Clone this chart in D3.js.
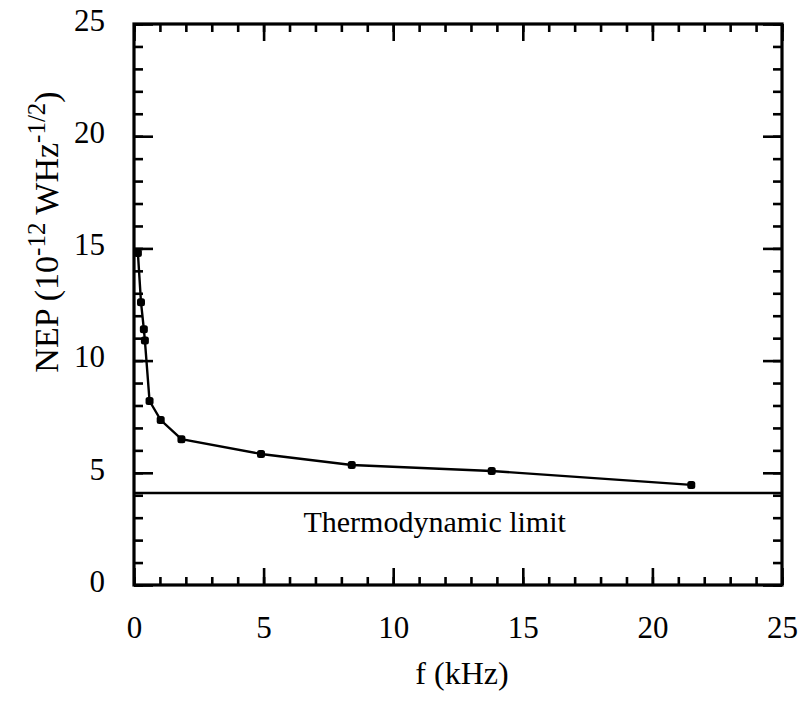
<!DOCTYPE html>
<html>
<head>
<meta charset="utf-8">
<script src="https://cdn.jsdelivr.net/npm/d3@7"></script>
<style>
  body { margin: 0; background: #fff; }
  svg text { font-family: "Liberation Serif", "Times New Roman", serif; fill: #000; }
</style>
</head>
<body>
<div id="vis"></div>
<script>
// chart values
const FREQ = [0.15, 0.27, 0.38, 0.42, 0.6, 1.03, 1.83, 4.9, 8.4, 13.8, 21.5];   // kHz
const NEP = [14.8, 12.6, 11.4, 10.9, 8.2, 7.35, 6.5, 5.84, 5.35, 5.08, 4.46];   // 1e-12 W/Hz^1/2
const THERMO_LIMIT = 4.1;
const MAJOR_TICKS = [0, 5, 10, 15, 20, 25];
const MINOR_TICKS = d3.range(0, 26, 1);

const FRAME_WIDTH = 798;
const FRAME_HEIGHT = 704;
const MARGINS = {left: 134, right: 16, top: 24, bottom: 119};
const VIS_WIDTH = FRAME_WIDTH - MARGINS.left - MARGINS.right;
const VIS_HEIGHT = FRAME_HEIGHT - MARGINS.top - MARGINS.bottom;
const SERIF = '"Liberation Serif", "Times New Roman", serif';

const FRAME = d3.select("#vis")
  .append("svg")
    .attr("width", FRAME_WIDTH)
    .attr("height", FRAME_HEIGHT);

const X_SCALE = d3.scaleLinear().domain([0, 25]).range([0, VIS_WIDTH]);
const Y_SCALE = d3.scaleLinear().domain([0, 25]).range([VIS_HEIGHT, 0]);

const G = FRAME.append("g")
  .attr("transform", "translate(" + MARGINS.left + "," + MARGINS.top + ")");

// ticks point inward on all four sides, minor every 1, major every 5
function tickAxis(axisFn, scale, values, size, withLabels) {
  const ax = axisFn(scale).tickValues(values).tickSizeInner(-size).tickSizeOuter(0);
  if (!withLabels) ax.tickFormat("");
  return ax;
}

function styleAxis(sel) {
  sel.attr("font-family", null).attr("font-size", null);
  sel.select(".domain").remove();
  sel.selectAll(".tick line").attr("stroke", "#000").attr("stroke-width", 2.6);
  sel.selectAll(".tick text")
    .style("font-family", SERIF)
    .style("font-size", "31px");
}

// bottom
G.append("g").attr("transform", "translate(0," + VIS_HEIGHT + ")")
  .call(tickAxis(d3.axisBottom, X_SCALE, MINOR_TICKS, 8, false)).call(styleAxis);
G.append("g").attr("transform", "translate(0," + VIS_HEIGHT + ")")
  .call(tickAxis(d3.axisBottom, X_SCALE, MAJOR_TICKS, 17, true).tickPadding(31))
  .call(styleAxis);
// top
G.append("g").call(tickAxis(d3.axisTop, X_SCALE, MINOR_TICKS, 8, false)).call(styleAxis);
G.append("g").call(tickAxis(d3.axisTop, X_SCALE, MAJOR_TICKS, 17, false)).call(styleAxis);
// left
G.append("g").call(tickAxis(d3.axisLeft, Y_SCALE, MINOR_TICKS, 9, false)).call(styleAxis);
G.append("g")
  .call(tickAxis(d3.axisLeft, Y_SCALE, MAJOR_TICKS, 19, true).tickPadding(29))
  .call(styleAxis)
  .selectAll(".tick text").attr("dy", "0.2em");
// right
G.append("g").attr("transform", "translate(" + VIS_WIDTH + ",0)")
  .call(tickAxis(d3.axisRight, Y_SCALE, MINOR_TICKS, 9, false)).call(styleAxis);
G.append("g").attr("transform", "translate(" + VIS_WIDTH + ",0)")
  .call(tickAxis(d3.axisRight, Y_SCALE, MAJOR_TICKS, 19, false)).call(styleAxis);

// frame
G.append("rect")
  .attr("x", 0).attr("y", 0)
  .attr("width", VIS_WIDTH).attr("height", VIS_HEIGHT)
  .attr("fill", "none").attr("stroke", "#000").attr("stroke-width", 3.2);

// thermodynamic limit
G.append("line")
  .attr("x1", X_SCALE(0)).attr("x2", X_SCALE(25))
  .attr("y1", Y_SCALE(THERMO_LIMIT)).attr("y2", Y_SCALE(THERMO_LIMIT))
  .attr("stroke", "#000").attr("stroke-width", 2.4);

G.append("text")
  .attr("x", X_SCALE(11.6))
  .attr("y", Y_SCALE(THERMO_LIMIT) + 39)
  .attr("text-anchor", "middle")
  .style("font-size", "30px")
  .text("Thermodynamic limit");

// data line + markers
const points = FREQ.map((f, i) => ({f: f, nep: NEP[i]}));

G.append("path")
  .datum(points)
  .attr("fill", "none")
  .attr("stroke", "#000")
  .attr("stroke-width", 2.4)
  .attr("d", d3.line().x(d => X_SCALE(d.f)).y(d => Y_SCALE(d.nep)));

G.selectAll(".point")
  .data(points)
  .enter()
  .append("rect")
    .attr("class", "point")
    .attr("x", d => X_SCALE(d.f) - 4)
    .attr("y", d => Y_SCALE(d.nep) - 4)
    .attr("width", 8).attr("height", 8)
    .attr("rx", 2.5)
    .attr("fill", "#000");

// axis titles
FRAME.append("text")
  .attr("x", 462)
  .attr("y", 684)
  .attr("text-anchor", "middle")
  .style("font-size", "32px")
  .text("f (kHz)");

const YT = FRAME.append("text")
  .attr("transform", "translate(58,232) rotate(-90)")
  .attr("text-anchor", "middle")
  .style("font-size", "34px");
YT.append("tspan").text("NEP (10");
YT.append("tspan").style("font-size", "25px").attr("dy", "-13").text("-12");
YT.append("tspan").attr("dy", "13").text(" WHz");
YT.append("tspan").style("font-size", "25px").attr("dy", "-13").text("-1/2");
YT.append("tspan").attr("dy", "13").text(")");
</script>
</body>
</html>
